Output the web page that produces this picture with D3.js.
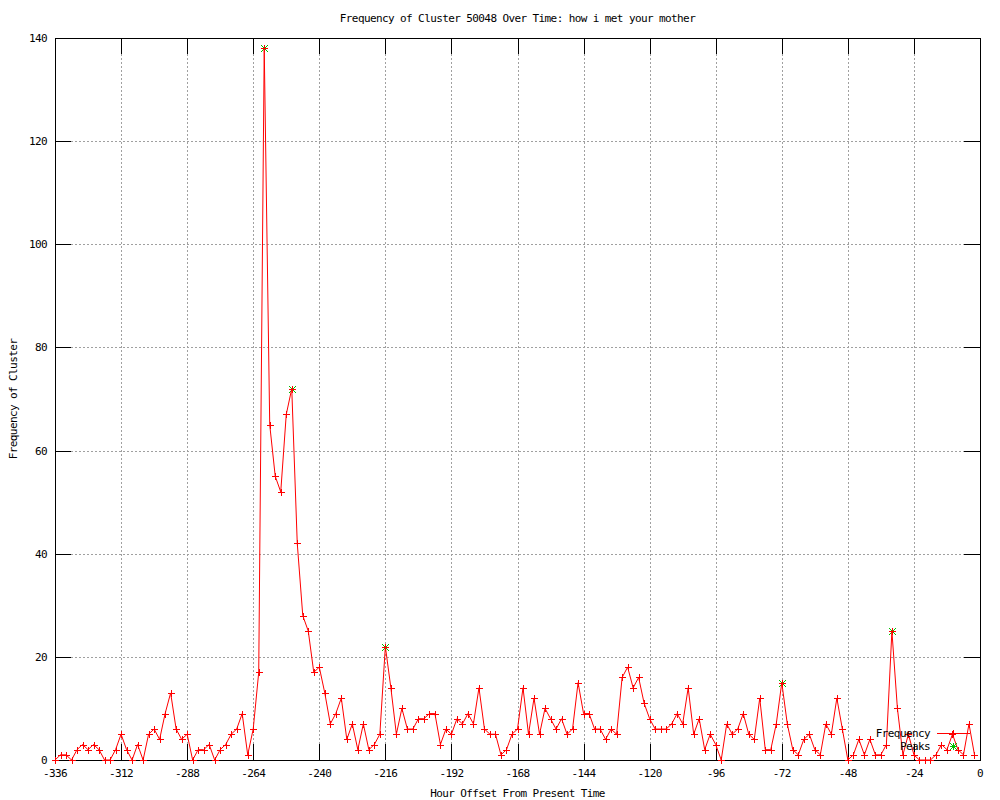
<!DOCTYPE html>
<html>
<head>
<meta charset="utf-8">
<script src="https://cdn.jsdelivr.net/npm/d3@7"></script>
<style>
  html, body { margin: 0; padding: 0; background: #ffffff; }
  svg { display: block; }
  text { font-family: "DejaVu Sans Mono", "Liberation Mono", monospace; font-size: 11px; letter-spacing: -0.6px; fill: #000; }
</style>
</head>
<body>
<svg id="chart" width="1000" height="800"></svg>
<script>
const title = "Frequency of Cluster 50048 Over Time: how i met your mother";
const xLabel = "Hour Offset From Present Time";
const yLabel = "Frequency of Cluster";

const hours = [
  -336,-334,-332,-330,-328,-326,-324,-322,-320,-318,-316,-314,-312,-310,-308,-306,-304,-302,-300,-298,
  -296,-294,-292,-290,-288,-286,-284,-282,-280,-278,-276,-274,-272,-270,-268,-266,-264,-262,-260,-258,
  -256,-254,-252,-250,-248,-246,-244,-242,-240,-238,-236,-234,-232,-230,-228,-226,-224,-222,-220,-218,
  -216,-214,-212,-210,-208,-206,-204,-202,-200,-198,-196,-194,-192,-190,-188,-186,-184,-182,-180,-178,
  -176,-174,-172,-170,-168,-166,-164,-162,-160,-158,-156,-154,-152,-150,-148,-146,-144,-142,-140,-138,
  -136,-134,-132,-130,-128,-126,-124,-122,-120,-118,-116,-114,-112,-110,-108,-106,-104,-102,-100,-98,
  -96,-94,-92,-90,-88,-86,-84,-82,-80,-78,-76,-74,-72,-70,-68,-66,-64,-62,-60,-58,
  -56,-54,-52,-50,-48,-46,-44,-42,-40,-38,-36,-34,-32,-30,-28,-26,-24,-22,-20,-18,
  -16,-14,-12,-10,-8,-6,-4,-2
];
const frequency = [
  0,1,1,0,2,3,2,3,2,0,0,2,5,2,0,3,0,5,6,4,
  9,13,6,4,5,0,2,2,3,0,2,3,5,6,9,1,6,17,138,65,
  55,52,67,72,42,28,25,17,18,13,7,9,12,4,7,2,7,2,3,5,
  22,14,5,10,6,6,8,8,9,9,3,6,5,8,7,9,7,14,6,5,
  5,1,2,5,6,14,5,12,5,10,8,6,8,5,6,15,9,9,6,6,
  4,6,5,16,18,14,16,11,8,6,6,6,7,9,7,14,5,8,2,5,
  3,0,7,5,6,9,5,4,12,2,2,7,15,7,2,1,4,5,2,1,
  7,5,12,6,0,1,4,1,4,1,1,3,25,10,1,5,1,0,0,0,
  1,3,2,5,2,1,7,1
];
const peakHours = [-260, -250, -216, -72, -32];
const peakValues = [138, 72, 22, 15, 25];

const xTicks = [-336,-312,-288,-264,-240,-216,-192,-168,-144,-120,-96,-72,-48,-24,0];
const yTicks = [0,20,40,60,80,100,120,140];
const legendLabels = ["Frequency", "Peaks"];

const svg = d3.select("#chart");
const L = 55, R = 980, T = 38, B = 760;
const x = d3.scaleLinear().domain([-336, 0]).range([L, R]);
const y = d3.scaleLinear().domain([0, 140]).range([B, T]);
const tickLen = 16;

// grid
const grid = svg.append("g").attr("stroke", "#a0a0a0").attr("stroke-width", 1).attr("stroke-dasharray", "2,2").attr("shape-rendering", "crispEdges");
grid.selectAll("line.gx").data(xTicks.filter(d => d > -336 && d < 0)).enter().append("line")
  .attr("x1", d => Math.round(x(d)) + 0.5).attr("x2", d => Math.round(x(d)) + 0.5)
  .attr("y1", T).attr("y2", B);
grid.selectAll("line.gy").data(yTicks.filter(d => d > 0 && d < 140)).enter().append("line")
  .attr("y1", d => Math.round(y(d)) + 0.5).attr("y2", d => Math.round(y(d)) + 0.5)
  .attr("x1", L).attr("x2", R);

// ticks (inward, mirrored)
const ticks = svg.append("g").attr("stroke", "#000").attr("stroke-width", 1).attr("shape-rendering", "crispEdges");
xTicks.forEach(d => {
  const px = Math.round(x(d)) + 0.5;
  ticks.append("line").attr("x1", px).attr("x2", px).attr("y1", B).attr("y2", B - tickLen);
  ticks.append("line").attr("x1", px).attr("x2", px).attr("y1", T).attr("y2", T + tickLen);
});
yTicks.forEach(d => {
  const py = Math.round(y(d)) + 0.5;
  ticks.append("line").attr("x1", L).attr("x2", L + tickLen).attr("y1", py).attr("y2", py);
  ticks.append("line").attr("x1", R).attr("x2", R - tickLen).attr("y1", py).attr("y2", py);
});

// border
svg.append("rect").attr("x", L + 0.5).attr("y", T + 0.5).attr("width", R - L).attr("height", B - T)
  .attr("fill", "none").attr("stroke", "#000").attr("stroke-width", 1).attr("shape-rendering", "crispEdges");

// tick labels
svg.append("g").selectAll("text").data(xTicks).enter().append("text")
  .attr("x", d => x(d)).attr("y", B + 17).attr("text-anchor", "middle").text(d => d);
svg.append("g").selectAll("text").data(yTicks).enter().append("text")
  .attr("x", L - 8).attr("y", d => y(d) + 4).attr("text-anchor", "end").text(d => d);

// titles
svg.append("text").attr("x", (L + R) / 2).attr("y", 22).attr("text-anchor", "middle").text(title);
svg.append("text").attr("x", (L + R) / 2).attr("y", 797).attr("text-anchor", "middle").text(xLabel);
svg.append("text").attr("transform", `translate(17,${(T + B) / 2}) rotate(-90)`).attr("text-anchor", "middle").text(yLabel);

function plus(g, cx, cy, color) {
  const s = 3.5;
  g.append("path").attr("d", `M${cx - s},${cy}H${cx + s}M${cx},${cy - s}V${cy + s}`)
    .attr("stroke", color).attr("stroke-width", 1).attr("fill", "none");
}
function star(g, cx, cy, color) {
  const s = 3.5;
  g.append("path").attr("d", `M${cx - s},${cy}H${cx + s}M${cx},${cy - s}V${cy + s}M${cx - s},${cy - s}L${cx + s},${cy + s}M${cx - s},${cy + s}L${cx + s},${cy - s}`)
    .attr("stroke", color).attr("stroke-width", 1).attr("fill", "none");
}

// peaks (drawn beneath the red points)
const pk = svg.append("g");
peakHours.forEach((h, i) => star(pk, Math.round(x(h)) + 0.5, Math.round(y(peakValues[i])) + 0.5, "#00c000"));

// data line
const data = hours.map((h, i) => ({h, v: frequency[i]}));
const line = d3.line().x(d => x(d.h)).y(d => y(d.v));
svg.append("path").datum(data).attr("d", line).attr("fill", "none").attr("stroke", "#ff0000").attr("stroke-width", 1);

const pts = svg.append("g");
data.forEach(d => plus(pts, Math.round(x(d.h)) + 0.5, Math.round(y(d.v)) + 0.5, "#ff0000"));

// legend
const lg = svg.append("g");
lg.append("text").attr("x", 930).attr("y", 737).attr("text-anchor", "end").text(legendLabels[0]);
lg.append("line").attr("x1", 937).attr("x2", 970).attr("y1", 733.5).attr("y2", 733.5).attr("stroke", "#ff0000");
plus(lg, 953.5, 733.5, "#ff0000");
lg.append("text").attr("x", 930).attr("y", 750).attr("text-anchor", "end").text(legendLabels[1]);
star(lg, 953.5, 746.5, "#00c000");
</script>
</body>
</html>
